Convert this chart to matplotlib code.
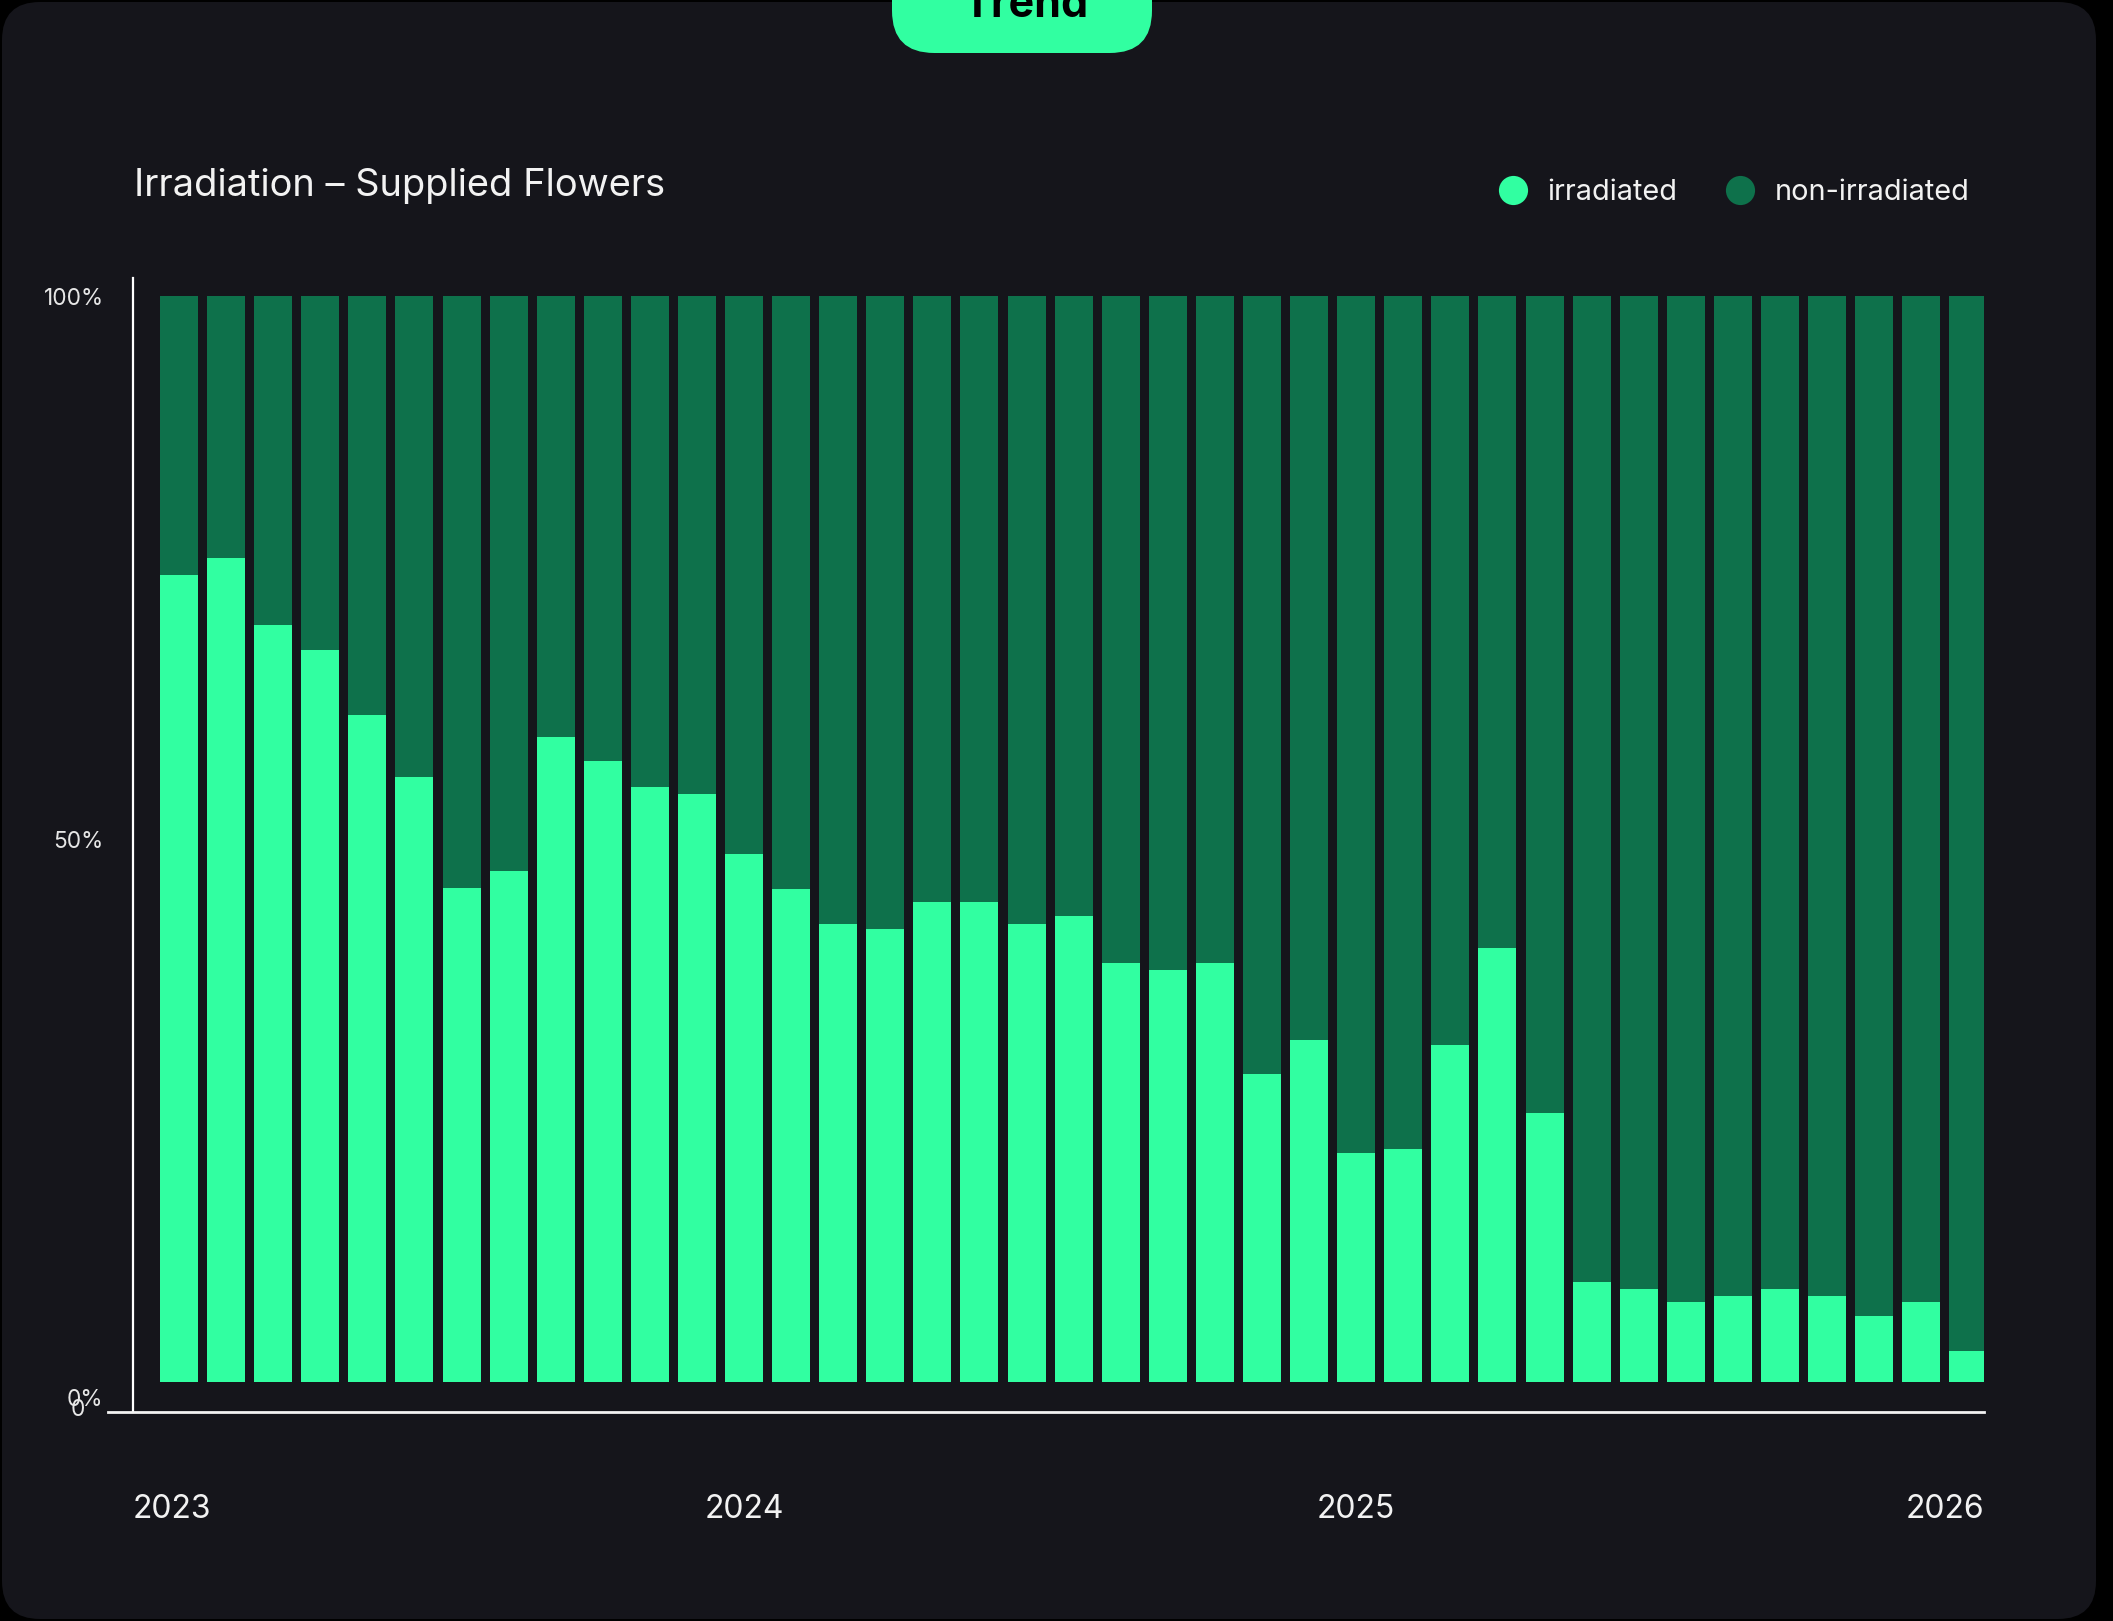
import matplotlib
matplotlib.use("Agg")
import matplotlib.pyplot as plt
from matplotlib.patches import FancyBboxPatch
from matplotlib.lines import Line2D
from matplotlib.transforms import blended_transform_factory

plt.rcParams['font.family'] = ['Inter', 'DejaVu Sans']

# data: share of supplied flowers (%), 39 periods from 2023 to 2026
irradiated = [74.3, 75.9, 69.7, 67.4, 61.4, 55.7, 45.5, 47.1, 59.4, 57.2,
              54.8, 54.2, 48.6, 45.4, 42.2, 41.7, 44.2, 44.2, 42.2, 42.9,
              38.6, 37.9, 38.6, 28.4, 31.5, 21.1, 21.4, 31.0, 40.0, 24.8,
              9.2, 8.5, 7.3, 7.9, 8.5, 7.9, 6.1, 7.3, 2.8]
non_irradiated = [25.7, 24.1, 30.3, 32.6, 38.6, 44.3, 54.5, 52.9, 40.6, 42.8,
                  45.2, 45.8, 51.4, 54.6, 57.8, 58.3, 55.8, 55.8, 57.8, 57.1,
                  61.4, 62.1, 61.4, 71.6, 68.5, 78.9, 78.6, 69.0, 60.0, 75.2,
                  90.8, 91.5, 92.7, 92.1, 91.5, 92.1, 93.9, 92.7, 97.2]
periods = list(range(len(irradiated)))
year_labels = ['2023', '2024', '2025', '2026']
year_pos = [0, 12, 25, 38]

W, H = 2113, 1621
LIGHT = '#31ffa1'
DARK = '#0e714b'
BG = '#15151b'
TXT = '#f2f2f2'


def fx(x):
    return x / W


def fy(y):
    return 1 - y / H


fig = plt.figure(figsize=(W / 100, H / 100), dpi=100)
fig.patch.set_facecolor('black')

# card background
card = FancyBboxPatch((fx(2), fy(1619)), fx(2096) - fx(2), fy(2) - fy(1619),
                      boxstyle="round,pad=0,rounding_size=0.018",
                      transform=fig.transFigure, facecolor=BG, edgecolor='none',
                      mutation_aspect=W / H, zorder=0)
fig.add_artist(card)

# "Trend" badge at the top (cut off by the top edge)
badge = FancyBboxPatch((fx(892), fy(53)), fx(1152) - fx(892), fy(-60) - fy(53),
                       boxstyle="round,pad=0,rounding_size=0.02",
                       transform=fig.transFigure, facecolor=LIGHT, edgecolor='none',
                       mutation_aspect=W / H, zorder=1)
fig.add_artist(badge)
fig.text(fx(1025), fy(17), 'Trend', ha='center', va='baseline',
         fontsize=31, fontweight='bold', color='black', zorder=2)

# title
fig.text(fx(134), fy(196), 'Irradiation \u2013 Supplied Flowers', ha='left',
         va='baseline', fontsize=27.4, color=TXT)

# legend
for cx, tx, lab, col in [(1513, 1547, 'irradiated', LIGHT),
                         (1740, 1775, 'non-irradiated', DARK)]:
    fig.add_artist(Line2D([fx(cx)], [fy(190)], marker='o', markersize=21,
                          markerfacecolor=col, markeredgecolor='none',
                          linestyle='none', transform=fig.transFigure))
    fig.text(fx(tx), fy(200), lab, ha='left', va='baseline', fontsize=20.8,
             color=TXT)

# plot area
ax = fig.add_axes([fx(133), fy(1412), fx(1984) - fx(133), fy(278) - fy(1412)])
ax.set_facecolor('none')
ax.bar(periods, irradiated, width=0.807, color=LIGHT, zorder=2)
ax.bar(periods, non_irradiated, bottom=irradiated, width=0.807, color=DARK,
       zorder=2)
ax.set_xlim(-0.977, 38.333)
ax.set_ylim(-2.79, 101.7)

for s in ['top', 'right', 'bottom']:
    ax.spines[s].set_visible(False)
ax.spines['left'].set_color('white')
ax.spines['left'].set_linewidth(1.6)

ax.set_yticks([50, 100])
ax.set_yticklabels(['50%', '100%'])
ax.tick_params(axis='y', length=0, pad=21, labelsize=16.3, labelcolor='#e6e6e6')
ax.set_xticks([])

# baseline of the chart, a little wider than the plot area
fig.add_artist(Line2D([fx(108), fx(1984)], [fy(1412), fy(1412)], color='#f2f2f2',
                      linewidth=2, transform=fig.transFigure))
# the reference draws "0%" and "0" on top of each other
fig.text(fx(103), fy(1400), '0%', ha='right', va='center', fontsize=16.3,
         color='#e6e6e6')
fig.text(fx(85), fy(1410), '0', ha='right', va='center', fontsize=16.3,
         color='#e6e6e6')

# year labels under the axis
tr = blended_transform_factory(ax.transData, ax.transAxes)
ly = -0.086
for i, (lab, pos) in enumerate(zip(year_labels, year_pos)):
    if i == 0:
        ax.text(0, ly, lab, transform=ax.transAxes, ha='left', va='center',
                fontsize=23, color=TXT)
    elif i == len(year_labels) - 1:
        ax.text(1, ly, lab, transform=ax.transAxes, ha='right', va='center',
                fontsize=23, color=TXT)
    else:
        ax.text(pos, ly, lab, transform=tr, ha='center', va='center',
                fontsize=23, color=TXT)

fig.savefig('out.png', dpi=100, facecolor=fig.get_facecolor())
